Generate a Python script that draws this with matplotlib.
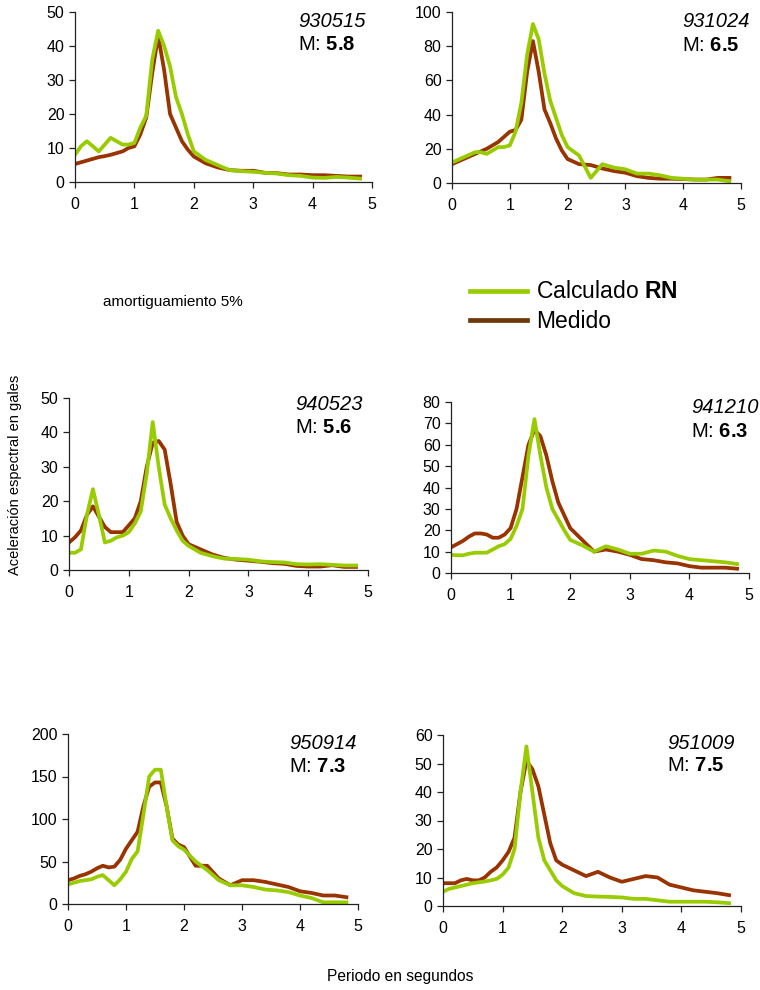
import matplotlib
matplotlib.use("Agg")
import matplotlib.pyplot as plt

plt.rcParams['font.family'] = ['Liberation Sans', 'DejaVu Sans']
plt.rcParams['mathtext.fontset'] = 'custom'
plt.rcParams['mathtext.bf'] = 'Liberation Sans:bold'
plt.rcParams['mathtext.rm'] = 'Liberation Sans'
plt.rcParams['mathtext.it'] = 'Liberation Sans:italic'

# Periods (s)
periodo = [0.0, 0.1, 0.2, 0.3, 0.4, 0.5, 0.6, 0.7, 0.8, 0.9, 1.0, 1.1, 1.2, 1.3, 1.4,
           1.5, 1.6, 1.7, 1.8, 1.9, 2.0, 2.2, 2.4, 2.6, 2.8, 3.0, 3.2, 3.4, 3.6, 3.8,
           4.0, 4.2, 4.4, 4.6, 4.8]

eventos = ["930515", "931024", "940523", "941210", "950914", "951009"]
magnitudes = ["5.8", "6.5", "5.6", "6.3", "7.3", "7.5"]
ymax = [50, 100, 50, 80, 200, 60]
ystep = [10, 20, 10, 10, 50, 10]

calc_930515 = [8, 10.5, 12, 10.5, 9, 11, 13, 12, 11, 11, 11.5, 16, 19.5, 36, 44.5,
               40, 34, 25, 20, 14, 9, 6.5, 5, 3.5, 3.2, 3, 2.7, 2.5, 2, 1.8,
               1.3, 1.2, 1.5, 1.3, 1]
med_930515 = [5.3, 5.8, 6.3, 6.8, 7.3, 7.6, 8, 8.5, 9, 10, 10.5, 14, 19, 32, 43,
              33, 20, 16, 12, 9.5, 7.5, 5.5, 4.3, 3.5, 3.3, 3.3, 2.7, 2.6, 2.2, 2.2,
              2, 2, 1.8, 1.6, 1.6]

calc_931024 = [12, 13.5, 15, 16.5, 18, 18, 17, 19, 21, 21, 22, 30, 47, 75, 93,
               84, 64, 48, 38, 28, 21, 16, 3, 11, 9, 8, 5.5, 5.5, 4.5, 3,
               2.5, 2, 2, 2, 1]
med_931024 = [11, 12.5, 14, 15.5, 17, 18.5, 20, 22, 24, 27, 30, 31, 37, 65, 83,
              65, 43, 35, 26, 19, 14, 11, 10.5, 8.5, 7, 6, 4, 3, 2.5, 2.5,
              2.3, 2, 2, 3, 3]

calc_940523 = [5, 5, 6, 16, 23.5, 16, 8, 8.5, 9.5, 10, 11, 13.5, 17, 28, 43,
               30, 19, 15, 11.5, 8.5, 7, 5, 4, 3.3, 3.2, 3, 2.5, 2.3, 2.2, 1.7,
               1.6, 1.7, 1.5, 1.3, 1.3]
med_940523 = [8, 9.5, 11.5, 16, 18.5, 15.5, 12.5, 11, 11, 11, 13, 15, 20, 30, 37,
              37.5, 35, 25, 14, 10, 7.5, 6, 4.5, 3.5, 3, 2.7, 2.4, 2, 1.8, 1.2,
              1, 1, 1.4, 0.9, 0.9]

calc_941210 = [8.5, 8.3, 8.3, 9, 9.5, 9.5, 9.5, 11, 12.5, 13.5, 16, 22, 30, 55, 72,
               55, 40, 30, 25, 20, 15.5, 13, 10, 12.5, 11, 9, 9, 10.5, 10, 8,
               6.5, 6, 5.5, 5, 4.2]
med_941210 = [12, 13.5, 15, 17, 18.5, 18.5, 18, 16.5, 16.5, 18, 21, 30, 45, 60, 67,
              64, 55, 43, 33, 27, 21, 15.5, 10, 11, 10, 8.5, 6.5, 6, 5, 4.5,
              3.2, 2.5, 2.5, 2.5, 2]

calc_950914 = [23, 25, 27, 28, 29, 32, 34, 28, 22, 29, 38, 53, 62, 105, 150,
               158, 158, 115, 75, 68, 64, 50, 40, 28, 22, 22, 20, 17, 16, 14,
               10, 7, 2, 2, 2]
med_950914 = [28, 30, 33, 35, 38, 42, 45, 43, 44, 52, 65, 75, 85, 115, 138,
              143, 143, 115, 77, 70, 67, 45, 45, 30, 22, 28, 28, 26, 23, 20,
              15, 13, 10, 10, 8]

calc_951009 = [5, 6, 6.5, 7, 7.5, 8, 8.3, 8.6, 9, 9.5, 11, 13.5, 20, 40, 56,
               40, 24, 16, 12.5, 9, 7, 4.5, 3.5, 3.3, 3.2, 3, 2.5, 2.5, 2, 1.5,
               1.5, 1.5, 1.5, 1.3, 1]
med_951009 = [8, 8, 8, 9, 9.5, 9, 9, 10, 12, 13.5, 16, 19, 24, 40, 51,
              48, 42, 32, 22, 16, 14.5, 12.5, 10.5, 12, 10, 8.5, 9.5, 10.5, 10, 7.5,
              6.5, 5.5, 5, 4.5, 3.8]

calculado = [calc_930515, calc_931024, calc_940523, calc_941210, calc_950914, calc_951009]
medido = [med_930515, med_931024, med_940523, med_941210, med_950914, med_951009]

GREEN = '#99CC00'
BROWN = '#993300'
W, H = 760, 990

# axes boxes in pixels: left, top, right, bottom
boxes = [(75, 12, 372, 182), (452, 12, 741, 183),
         (69, 398, 368, 570), (451, 402, 749, 573),
         (68, 734, 358, 904), (443, 735, 741, 906)]
# label positions (axes fraction): x_left, y_event, y_mag
labpos = [(0.751, 0.947, 0.81), (0.796, 0.947, 0.807),
          (0.756, 0.96, 0.83), (0.805, 0.97, 0.83),
          (0.762, 0.947, 0.806), (0.752, 0.953, 0.82)]

fig = plt.figure(figsize=(W / 100, H / 100), dpi=100)

for i in range(6):
    l, t, r, b = boxes[i]
    ax = fig.add_axes([l / W, 1 - b / H, (r - l) / W, (b - t) / H])
    ax.plot(periodo, medido[i], color=BROWN, lw=2.7, solid_joinstyle='round')
    ax.plot(periodo, calculado[i], color=GREEN, lw=2.7, solid_joinstyle='round')
    ax.set_xlim(0, 5)
    ax.set_ylim(0, ymax[i])
    ax.set_xticks(range(0, 6))
    ax.set_yticks(range(0, ymax[i] + 1, ystep[i]))
    for s in ['top', 'right']:
        ax.spines[s].set_visible(False)
    for s in ['left', 'bottom']:
        ax.spines[s].set_linewidth(0.9)
        ax.spines[s].set_color('#222222')
    ax.tick_params(direction='out', length=4, width=0.9, labelsize=11.5,
                   colors='#222222', labelcolor='black')
    ax.tick_params(axis='x', pad=7)
    ax.patch.set_alpha(0)
    xl, ye, ym = labpos[i]
    ax.text(xl, ye, eventos[i], transform=ax.transAxes, fontsize=14.5,
            style='italic', ha='left', va='center')
    ax.text(xl, ym, "M: $\\mathbf{" + magnitudes[i] + "}$", transform=ax.transAxes,
            fontsize=14.5, ha='left', va='center')

# Legend drawn in figure coordinates
fig.lines.append(plt.Line2D([470 / W, 527 / W], [1 - 291 / H, 1 - 291 / H],
                            color=GREEN, lw=3.4, transform=fig.transFigure))
fig.lines.append(plt.Line2D([470 / W, 527 / W], [1 - 320 / H, 1 - 320 / H],
                            color='#6E3808', lw=3.4, transform=fig.transFigure))
fig.text(536 / W, 1 - 291 / H, "Calculado $\\mathbf{RN}$", fontsize=16.5,
         ha='left', va='center')
fig.text(536 / W, 1 - 321 / H, "Medido", fontsize=16.5, ha='left', va='center')

fig.text(103 / W, 1 - 302 / H, "amortiguamiento 5%", fontsize=11,
         ha='left', va='center')
fig.text(15 / W, 1 - 475 / H, "Aceleración espectral en gales", fontsize=10.5,
         rotation=90, ha='center', va='center')
fig.text(400 / W, 1 - 977 / H, "Periodo en segundos", fontsize=11.2,
         ha='center', va='center')

fig.savefig("out.png", dpi=100)
